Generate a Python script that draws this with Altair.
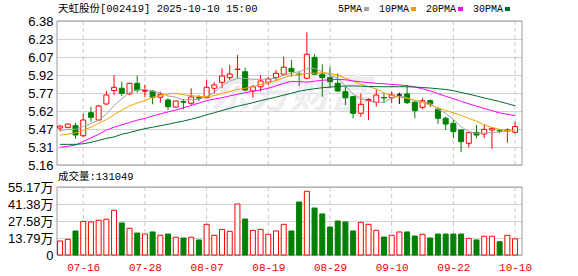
import json
import numpy as np
import pandas as pd
import altair as alt

# ---------------- data ----------------
dates = ["07-11","07-14","07-15","07-16","07-17","07-18","07-21","07-22","07-23","07-24","07-25",
         "07-28","07-29","07-30","07-31","08-01","08-04","08-05","08-06","08-07","08-08",
         "08-11","08-12","08-13","08-14","08-15","08-18","08-19","08-20","08-21","08-22",
         "08-25","08-26","08-27","08-28","08-29","09-01","09-02","09-03","09-04","09-05",
         "09-08","09-09","09-10","09-11","09-12","09-15","09-16","09-17","09-18","09-19",
         "09-22","09-23","09-24","09-25","09-26","09-29","09-30","10-09","10-10"]

opens = [5.473, 5.479, 5.493, 5.408, 5.603, 5.541, 5.677, 5.790, 5.810, 5.762,
         5.852, 5.785, 5.786, 5.734, 5.711, 5.651, 5.697, 5.683, 5.730, 5.730,
         5.810, 5.861, 5.900, 5.968, 5.950, 5.787, 5.823, 5.861, 5.900, 5.929,
         5.979, 5.930, 5.895, 6.072, 5.929, 5.900, 5.852, 5.781, 5.739, 5.598,
         5.705, 5.691, 5.732, 5.730, 5.753, 5.762, 5.691, 5.649, 5.705, 5.632,
         5.556, 5.513, 5.457, 5.344, 5.437, 5.423, 5.457, 5.450, 5.448, 5.437]
highs = [5.499, 5.513, 5.518, 5.592, 5.654, 5.668, 5.787, 5.922, 5.866, 5.855,
         5.917, 5.838, 5.795, 5.781, 5.725, 5.705, 5.719, 5.810, 5.753, 5.880,
         5.861, 5.979, 6.007, 6.092, 5.984, 5.838, 5.922, 5.908, 5.965, 6.078,
         6.050, 5.951, 6.284, 6.098, 6.013, 5.993, 5.937, 5.823, 5.745, 5.767,
         5.725, 5.801, 5.773, 5.781, 5.773, 5.838, 5.711, 5.725, 5.716, 5.649,
         5.569, 5.541, 5.462, 5.442, 5.499, 5.505, 5.471, 5.465, 5.471, 5.527]
lows = [5.442, 5.470, 5.383, 5.395, 5.527, 5.535, 5.668, 5.753, 5.745, 5.753,
        5.773, 5.734, 5.674, 5.688, 5.626, 5.645, 5.632, 5.668, 5.702, 5.728,
        5.767, 5.810, 5.880, 5.895, 5.787, 5.730, 5.781, 5.838, 5.872, 5.929,
        5.908, 5.829, 5.889, 5.923, 5.739, 5.810, 5.781, 5.668, 5.556, 5.569,
        5.541, 5.654, 5.683, 5.683, 5.677, 5.677, 5.556, 5.632, 5.649, 5.507,
        5.457, 5.386, 5.268, 5.310, 5.386, 5.386, 5.296, 5.429, 5.349, 5.428]
closes = [5.490, 5.507, 5.414, 5.541, 5.564, 5.660, 5.753, 5.818, 5.767, 5.852,
          5.795, 5.790, 5.734, 5.758, 5.654, 5.702, 5.692, 5.736, 5.728, 5.818,
          5.838, 5.914, 5.931, 5.973, 5.795, 5.823, 5.872, 5.889, 5.937, 5.988,
          5.950, 5.926, 6.098, 5.929, 5.900, 5.866, 5.787, 5.730, 5.598, 5.674,
          5.715, 5.753, 5.728, 5.753, 5.753, 5.688, 5.620, 5.705, 5.677, 5.556,
          5.507, 5.442, 5.358, 5.434, 5.414, 5.462, 5.471, 5.448, 5.457, 5.485]

volumes = [113600, 127000, 195000, 273000, 268000, 282000, 290000, 363000, 260000, 217000,
           178000, 170000, 187000, 160000, 170000, 144000, 138000, 144000, 122000, 249000,
           160000, 208000, 192000, 414000, 292000, 200000, 208000, 168000, 195000, 249000,
           195000, 430000, 517000, 381000, 333000, 227000, 276000, 268000, 195000, 265000,
           249000, 200000, 146000, 160000, 187000, 187000, 154000, 168000, 138000, 170000,
           170000, 170000, 170000, 135000, 122000, 152000, 152000, 108000, 160000, 131049]
volume_up = [1, 1, 0, 1, 1, 1, 1, 1, 0, 1,
             0, 1, 0, 1, 0, 1, 0, 1, 0, 1,
             1, 1, 1, 1, 0, 1, 1, 1, 1, 1,
             0, 0, 1, 0, 0, 0, 0, 0, 0, 1,
             1, 1, 0, 1, 1, 0, 0, 1, 0, 0,
             0, 0, 0, 1, 0, 1, 1, 0, 1, 1]

ma5 = [5.451, 5.462, 5.462, 5.485, 5.510, 5.540, 5.590, 5.665, 5.720, 5.775,
       5.795, 5.801, 5.785, 5.772, 5.745, 5.735, 5.711, 5.715, 5.715, 5.740,
       5.775, 5.830, 5.870, 5.894, 5.894, 5.886, 5.886, 5.890, 5.894, 5.922,
       5.937, 5.951, 5.975, 5.979, 5.951, 5.922, 5.894, 5.830, 5.760, 5.725,
       5.702, 5.691, 5.691, 5.725, 5.745, 5.730, 5.705, 5.696, 5.683, 5.632,
       5.598, 5.547, 5.485, 5.442, 5.429, 5.429, 5.434, 5.442, 5.448, 5.457]
ma10 = [5.414, 5.420, 5.432, 5.455, 5.480, 5.513, 5.545, 5.585, 5.625, 5.660,
        5.685, 5.705, 5.735, 5.752, 5.762, 5.765, 5.755, 5.748, 5.740, 5.738,
        5.748, 5.765, 5.783, 5.800, 5.810, 5.825, 5.842, 5.858, 5.875, 5.900,
        5.920, 5.925, 5.935, 5.938, 5.942, 5.935, 5.922, 5.895, 5.870, 5.845,
        5.822, 5.805, 5.770, 5.750, 5.735, 5.725, 5.705, 5.690, 5.668, 5.645,
        5.622, 5.602, 5.580, 5.555, 5.532, 5.500, 5.478, 5.462, 5.452, 5.448]
ma20 = [5.310, 5.318, 5.330, 5.360, 5.390, 5.420, 5.455, 5.480, 5.500, 5.520,
        5.540, 5.555, 5.575, 5.593, 5.610, 5.625, 5.645, 5.665, 5.685, 5.705,
        5.718, 5.730, 5.745, 5.760, 5.772, 5.785, 5.797, 5.810, 5.830, 5.852,
        5.868, 5.866, 5.862, 5.870, 5.878, 5.882, 5.885, 5.882, 5.872, 5.865,
        5.858, 5.852, 5.848, 5.843, 5.838, 5.832, 5.822, 5.805, 5.788, 5.765,
        5.742, 5.722, 5.700, 5.678, 5.658, 5.640, 5.620, 5.602, 5.590, 5.578]
ma30 = [5.335, 5.335, 5.335, 5.340, 5.352, 5.368, 5.385, 5.398, 5.420, 5.435,
        5.452, 5.468, 5.480, 5.493, 5.505, 5.520, 5.532, 5.548, 5.565, 5.585,
        5.603, 5.622, 5.640, 5.658, 5.672, 5.688, 5.705, 5.720, 5.735, 5.752,
        5.768, 5.785, 5.797, 5.806, 5.815, 5.820, 5.825, 5.829, 5.830, 5.828,
        5.825, 5.824, 5.823, 5.823, 5.823, 5.823, 5.820, 5.816, 5.812, 5.806,
        5.800, 5.790, 5.775, 5.760, 5.745, 5.728, 5.713, 5.697, 5.680, 5.662]

ma_names = ["5PMA", "10PMA", "20PMA", "30PMA"]
ma_colors = ["#a3a3a3", "#f5a000", "#ff00ff", "#006b30"]

date_ticks = ["07-16", "07-28", "08-07", "08-19", "08-29", "09-10", "09-22", "10-10"]
price_ticks = [5.16, 5.3125, 5.465, 5.6175, 5.77, 5.9225, 6.075, 6.2275, 6.38]
price_tick_labels = ["5.16", "5.31", "5.47", "5.62", "5.77", "5.92", "6.07", "6.23", "6.38"]
volume_ticks = [0, 137925, 275850, 413775, 551700]
volume_tick_labels = ["0", "13.79万", "27.58万", "41.38万", "55.17万"]

title_text = "天虹股份[002419] 2025-10-10 15:00"
volume_title = "成交量"
watermark_text = "东方财富"

# ---------------- layout / style ----------------
W, H = 465, 234
PRICE_H = 144
VOL_TOP, VOL_BOT = 166, 234
RED, GREEN, BLACK = "#ff0000", "#008000", "#000000"
GRID = "#d2d2d2"
FRAME = "#9a9a9a"
NUM_FONT = "Liberation Sans, Noto Sans CJK SC"
MONO_FONT = "Liberation Mono, Noto Sans CJK SC"

n = len(dates)
df = pd.DataFrame({"idx": list(range(n)), "date": dates, "open": opens, "high": highs,
                   "low": lows, "close": closes, "volume": volumes})
o = np.array(opens); c = np.array(closes)
df["dir"] = np.where(c > o, "up", np.where(c < o, "down", "flat"))
df["vdir"] = ["up" if f else "down" for f in volume_up]

ma_df = pd.concat([pd.DataFrame({"idx": list(range(n)), "value": v, "name": nm})
                   for nm, v in zip(ma_names, [ma5, ma10, ma20, ma30])])

tick_idx = [dates.index(d) for d in date_ticks]
tick_df = pd.DataFrame({"idx": tick_idx})
one = pd.DataFrame({"a": [0]})

x_scale = alt.Scale(domain=[-0.4, 59.9], nice=False, zero=False, padding=0)
price_scale = alt.Scale(domain=[5.16, 6.38], range=[PRICE_H, 0], nice=False, zero=False)
vol_scale = alt.Scale(domain=[0, 551700], range=[VOL_BOT, VOL_TOP], nice=False, zero=False)
dir_dom = ["up", "down", "flat"]
stroke_scale = alt.Scale(domain=dir_dom, range=[RED, GREEN, BLACK])
fill_scale = alt.Scale(domain=dir_dom, range=["#ffffff", GREEN, BLACK])

price_label_expr = f"{json.dumps(price_tick_labels)}[indexof({json.dumps(price_ticks)}, datum.value)]"
vol_label_expr = f"{json.dumps(volume_tick_labels, ensure_ascii=False)}[indexof({json.dumps(volume_ticks)}, datum.value)]"
date_label_expr = f"{json.dumps(date_ticks)}[indexof({json.dumps(tick_idx)}, datum.value)]"

x_axis = alt.Axis(values=tick_idx, labelExpr=date_label_expr, grid=False, domain=False,
                  ticks=False, labelPadding=6, labelFont=MONO_FONT, labelFontSize=11,
                  labelColor="#ee0000", title=None, orient="bottom", labelFlush=False)
price_axis = alt.Axis(values=price_ticks, labelExpr=price_label_expr, grid=True,
                      gridColor=GRID, domain=False, ticks=False, labelPadding=4,
                      labelFont=NUM_FONT, labelFontSize=13, labelColor="#000000",
                      title=None, orient="left")
vol_axis = alt.Axis(values=volume_ticks, labelExpr=vol_label_expr, grid=True,
                    gridColor=GRID, domain=False, ticks=False, labelPadding=4,
                    labelFont=NUM_FONT, labelFontSize=13, labelColor="#000000",
                    title=None, orient="left")

xq = alt.X("idx:Q", scale=x_scale, axis=x_axis)

# ---------------- price panel ----------------
watermark = alt.Chart(one).mark_text(
    text=watermark_text, font="Noto Sans CJK SC", fontSize=40, fontWeight="bold",
    fontStyle="italic", color="#ededf0", align="center", baseline="middle"
).encode(x=alt.value(233), y=alt.value(75))

vgrid_price = alt.Chart(tick_df).mark_rule(color="#c8c8c8", strokeDash=[4, 3], strokeWidth=1).encode(
    x=xq, y=alt.value(0), y2=alt.value(PRICE_H))

frame_price = alt.Chart(one).mark_rect(fillOpacity=0, stroke=FRAME, strokeWidth=1).encode(
    x=alt.value(0), x2=alt.value(W), y=alt.value(0), y2=alt.value(PRICE_H))

wicks = alt.Chart(df).mark_rule(strokeWidth=1).encode(
    x=xq,
    y=alt.Y("low:Q", scale=price_scale, axis=price_axis),
    y2="high:Q",
    stroke=alt.Stroke("dir:N", scale=stroke_scale, legend=None))

bodies = alt.Chart(df).mark_bar(size=5, strokeWidth=1).encode(
    x=xq,
    y=alt.Y("open:Q", scale=price_scale, axis=price_axis),
    y2="close:Q",
    fill=alt.Fill("dir:N", scale=fill_scale, legend=None),
    stroke=alt.Stroke("dir:N", scale=stroke_scale, legend=None))

ma_lines = alt.Chart(ma_df).mark_line(strokeWidth=1).encode(
    x=xq,
    y=alt.Y("value:Q", scale=price_scale, axis=price_axis),
    color=alt.Color("name:N", scale=alt.Scale(domain=ma_names, range=ma_colors), legend=None))

price = alt.layer(watermark, vgrid_price, frame_price, wicks, bodies, ma_lines)

# ---------------- volume panel ----------------
vgrid_vol = alt.Chart(tick_df).mark_rule(color="#c8c8c8", strokeDash=[4, 3], strokeWidth=1).encode(
    x=xq, y=alt.value(VOL_TOP), y2=alt.value(VOL_BOT))

frame_vol = alt.Chart(one).mark_rect(fillOpacity=0, stroke=FRAME, strokeWidth=1).encode(
    x=alt.value(0), x2=alt.value(W), y=alt.value(VOL_TOP), y2=alt.value(VOL_BOT))

vol_bars = alt.Chart(df).mark_bar(size=5, strokeWidth=1).encode(
    x=xq,
    y=alt.Y("volume:Q", scale=vol_scale, axis=vol_axis),
    fill=alt.Fill("vdir:N", scale=fill_scale, legend=None),
    stroke=alt.Stroke("vdir:N", scale=stroke_scale, legend=None))

vol_text = alt.Chart(one).mark_text(
    text=f"{volume_title}:{volumes[-1]}", font=MONO_FONT, fontSize=10.5, color="#000000",
    align="left", baseline="middle").encode(x=alt.value(1), y=alt.value(156))

volume = alt.layer(vgrid_vol, frame_vol, vol_bars, vol_text)

# ---------------- header: title and MA legend ----------------
header = [alt.Chart(one).mark_text(
    text=title_text, font=MONO_FONT, fontSize=10.5, color="#000000",
    align="left", baseline="middle").encode(x=alt.value(1), y=alt.value(-12))]

lx = 281
for nm, col in zip(ma_names, ma_colors):
    tw = len(nm) * 6
    header.append(alt.Chart(one).mark_text(
        text=nm, font="Liberation Mono", fontSize=10, color="#000000",
        align="left", baseline="middle").encode(x=alt.value(lx), y=alt.value(-12)))
    header.append(alt.Chart(one).mark_rect(color=col).encode(
        x=alt.value(lx + tw + 2), x2=alt.value(lx + tw + 7),
        y=alt.value(-14), y2=alt.value(-10)))
    lx += tw + 17

chart = alt.layer(price, volume, *header).resolve_scale(y="independent").properties(
    width=W, height=H,
    autosize=alt.AutoSizeParams(type="none"),
    padding={"left": 57, "top": 21, "right": 56, "bottom": 21},
    background="#ffffff",
).configure_view(stroke=None)

chart.save("out.html", embed_options={"renderer": "svg", "actions": False})
